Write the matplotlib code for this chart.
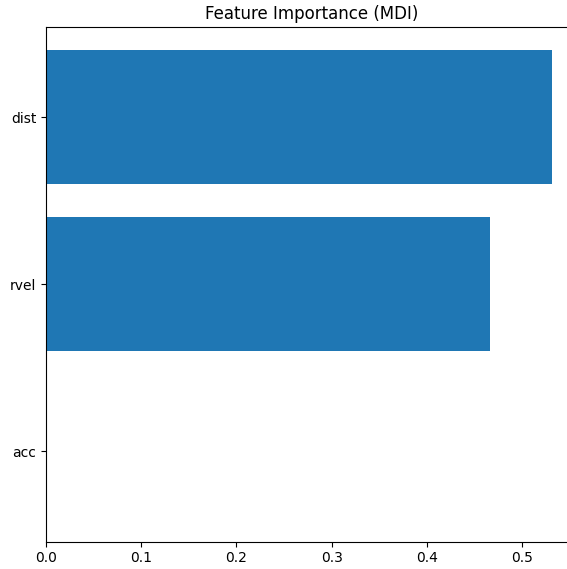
import matplotlib
matplotlib.use("Agg")
import matplotlib.pyplot as plt

features = ["acc", "rvel", "dist"]
importances = [0.0, 0.4665, 0.5312]

W, H = 567, 569
DPI = 100
fig = plt.figure(figsize=(W / DPI, H / DPI), dpi=DPI)
left, right, top, bottom = 46, 577, 27, 541.5
ax = fig.add_axes([left / W, (H - bottom) / H, (right - left) / W, (bottom - top) / H])

ax.barh(features, importances, color="#1f77b4")
ax.set_title("Feature Importance (MDI)")

fig.savefig("out.png", dpi=DPI)
